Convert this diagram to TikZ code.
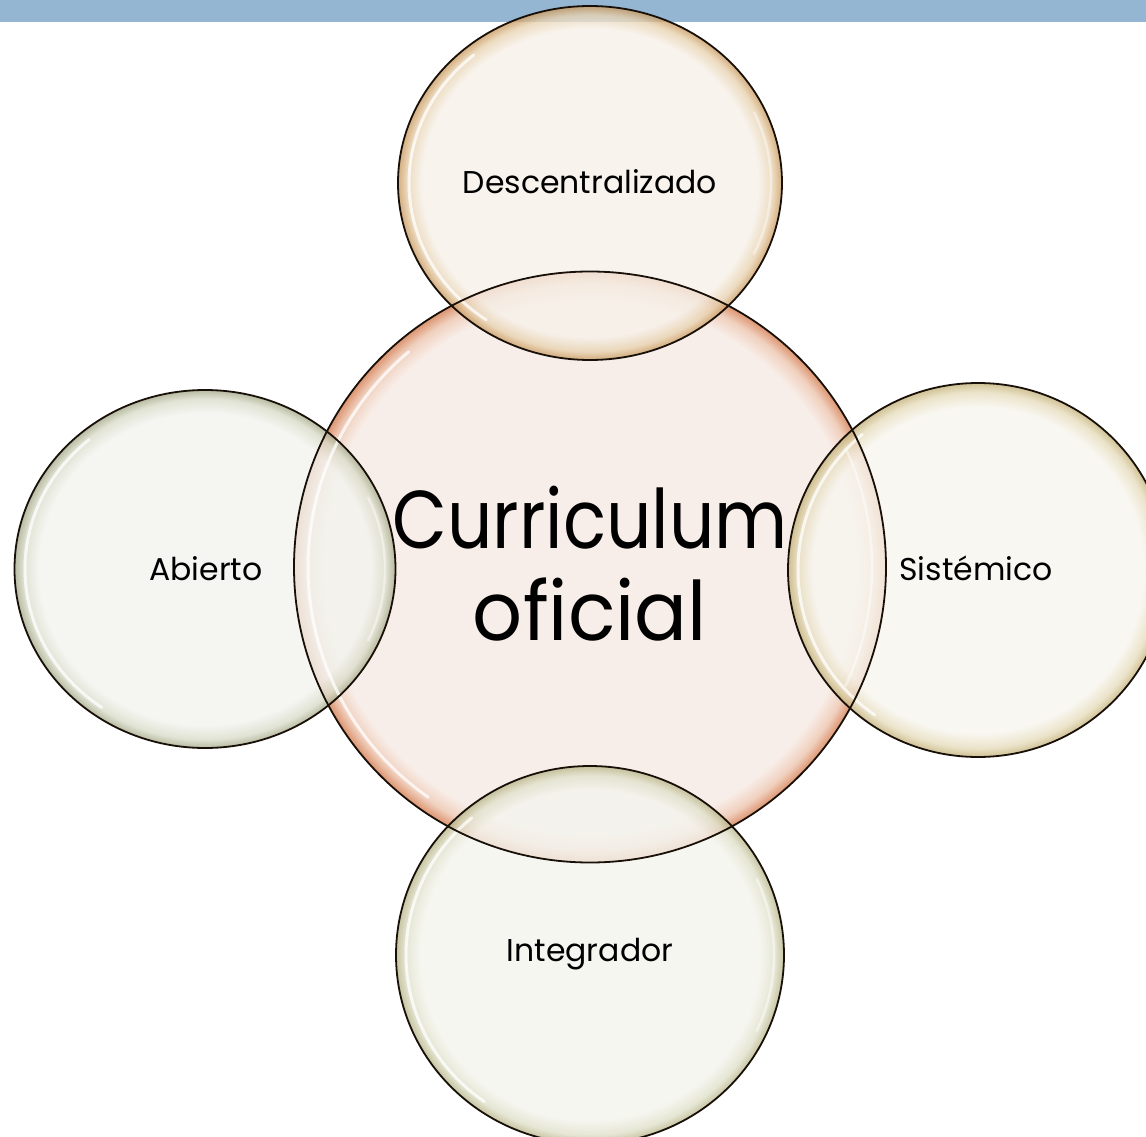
\documentclass[tikz,border=0pt]{standalone}
\usepackage{graphicx}
\usepackage{fontspec}
\setmainfont{Poppins}
\usetikzlibrary{shapes.geometric}
\definecolor{barblue}{HTML}{94B6D2}
\definecolor{cIn}{HTML}{F8EEE9}\definecolor{cMid}{HTML}{F0D0BE}\definecolor{cRim}{HTML}{DC9470}
\definecolor{tIn}{HTML}{F6F1E9}\definecolor{tMid}{HTML}{E8D2B0}\definecolor{tRim}{HTML}{C99A60}
\definecolor{lIn}{HTML}{F2F3EE}\definecolor{lMid}{HTML}{DADCCA}\definecolor{lRim}{HTML}{A6AA8A}
\definecolor{rIn}{HTML}{F7F5EE}\definecolor{rMid}{HTML}{E6DCBC}\definecolor{rRim}{HTML}{C4B27A}
\definecolor{bIn}{HTML}{F4F4EE}\definecolor{bMid}{HTML}{E0E0CA}\definecolor{bRim}{HTML}{B8B68A}
\pgfdeclareradialshading{bubC}{\pgfpoint{0bp}{0bp}}{color(0bp)=(cIn); color(22.6bp)=(cIn); color(24bp)=(cMid); color(25bp)=(cRim); color(50bp)=(cRim)}
\pgfdeclareradialshading{bubT}{\pgfpoint{0bp}{0bp}}{color(0bp)=(tIn); color(21.8bp)=(tIn); color(23.8bp)=(tMid); color(25bp)=(tRim); color(50bp)=(tRim)}
\pgfdeclareradialshading{bubL}{\pgfpoint{0bp}{0bp}}{color(0bp)=(lIn); color(21.8bp)=(lIn); color(23.8bp)=(lMid); color(25bp)=(lRim); color(50bp)=(lRim)}
\pgfdeclareradialshading{bubR}{\pgfpoint{0bp}{0bp}}{color(0bp)=(rIn); color(21.8bp)=(rIn); color(23.8bp)=(rMid); color(25bp)=(rRim); color(50bp)=(rRim)}
\pgfdeclareradialshading{bubB}{\pgfpoint{0bp}{0bp}}{color(0bp)=(bIn); color(21.8bp)=(bIn); color(23.8bp)=(bMid); color(25bp)=(bRim); color(50bp)=(bRim)}
\tikzset{
  bubble/.style={ellipse, inner sep=0pt, shade, fill opacity=0.8},
  outline/.style={draw=black!88!brown, line width=1.8pt},
  smalllabel/.style={font=\fontsize{31.5}{36}\selectfont, inner sep=0pt},
  hl/.style={draw=white, line width=3pt, opacity=0.75, line cap=round},
  hlb/.style={draw=white, line width=2.5pt, opacity=0.45, line cap=round}
}
\begin{document}
\begin{tikzpicture}[x=1pt,y=-1pt]
\useasboundingbox (0,0) rectangle (1146,1137);
\fill[barblue] (0,0) rectangle (1146,22);
% bubble fills
\node[bubble, shading=bubC, fill opacity=1, minimum width=592pt, minimum height=591pt] (cur) at (590,567) {};
\node[bubble, shading=bubT, minimum width=384pt, minimum height=354pt] (des) at (590,183) {};
\node[bubble, shading=bubL, minimum width=381pt, minimum height=358pt] (abi) at (205,569) {};
\node[bubble, shading=bubR, minimum width=380pt, minimum height=374pt] (sis) at (978,570) {};
\node[bubble, shading=bubB, minimum width=388pt, minimum height=378pt] (int) at (590,955) {};
% glossy highlights
\draw[hl] ([shift={(125:282 and 281)}]cur.center) arc[start angle=125, end angle=230, x radius=282, y radius=281];
\draw[hlb] ([shift={(-25:282 and 281)}]cur.center) arc[start angle=-25, end angle=25, x radius=282, y radius=281];
\draw[hl] ([shift={(125:181 and 167)}]des.center) arc[start angle=125, end angle=230, x radius=181, y radius=167];
\draw[hlb] ([shift={(-25:181 and 167)}]des.center) arc[start angle=-25, end angle=25, x radius=181, y radius=167];
\draw[hl] ([shift={(125:180 and 169)}]abi.center) arc[start angle=125, end angle=230, x radius=180, y radius=169];
\draw[hlb] ([shift={(-25:180 and 169)}]abi.center) arc[start angle=-25, end angle=25, x radius=180, y radius=169];
\draw[hl] ([shift={(125:180 and 177)}]sis.center) arc[start angle=125, end angle=230, x radius=180, y radius=177];
\draw[hl] ([shift={(125:184 and 179)}]int.center) arc[start angle=125, end angle=230, x radius=184, y radius=179];
\draw[hlb] ([shift={(-25:184 and 179)}]int.center) arc[start angle=-25, end angle=25, x radius=184, y radius=179];
% outlines
\draw[outline] (cur.center) ellipse [x radius=296, y radius=295.5];
\draw[outline] (des.center) ellipse [x radius=192, y radius=177];
\draw[outline] (abi.center) ellipse [x radius=190.5, y radius=179];
\draw[outline] (sis.center) ellipse [x radius=190, y radius=187];
\draw[outline] (int.center) ellipse [x radius=194, y radius=189];
% texts
\node[align=center, inner sep=0pt, font=\fontsize{82}{92}\selectfont] (curtxt) at ([yshift=3]cur.center)
  {\scalebox{0.866}[1]{Curriculum}\\\scalebox{0.955}[1]{oficial}};
\node[smalllabel] (destxt) at ([yshift=1]des.center) {Descentralizado};
\node[smalllabel] (abitxt) at ([xshift=1,yshift=0]abi.center) {Abierto};
\node[smalllabel] (sistxt) at ([xshift=-2,yshift=2]sis.center) {Sistémico};
\node[smalllabel] (inttxt) at ([yshift=1]int.center) {Integrador};
\end{tikzpicture}
\end{document}
